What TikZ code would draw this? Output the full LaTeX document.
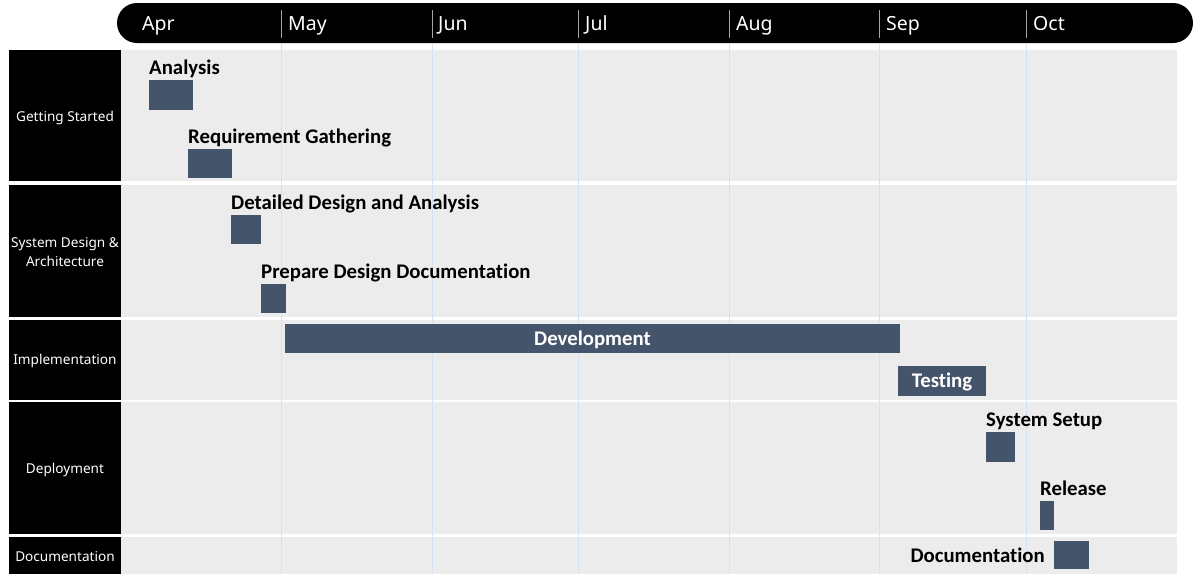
\documentclass[tikz,border=0pt]{standalone}
\usepackage{fontspec}
\setmainfont{Carlito}[Ligatures={NoCommon}]
\newfontfamily\uifont{Noto Sans}
\begin{document}
\begin{tikzpicture}[x=1pt,y=-1pt,
  lane/.style={fill=black, draw=none},
  lanetext/.style={text=white, font=\uifont\fontsize{13.6}{19}\selectfont, align=center, inner sep=0},
  band/.style={fill=bandgray, draw=none},
  grid/.style={draw=gridblue, line width=0.8pt},
  sep/.style={draw=gray!70, line width=0.8pt},
  month/.style={text=white, font=\uifont\fontsize{19.5}{22}\selectfont, anchor=base west, inner sep=0},
  bar/.style={fill=barblue, draw=none, anchor=north west, inner sep=0, outer sep=0},
  tasklabel/.style={font=\bfseries\fontsize{20.8}{24}\selectfont, anchor=base west, inner sep=0},
  inlabel/.style={font=\bfseries\fontsize{20.8}{24}\selectfont, text=white, inner sep=0}]
\definecolor{bandgray}{HTML}{ECECEC}
\definecolor{gridblue}{HTML}{D5E2F0}
\definecolor{barblue}{HTML}{44546A}
\useasboundingbox (0,0) rectangle (1195,582);

% month header
\fill[black, rounded corners=20pt] (117,3) rectangle (1193,43);
\foreach \x in {281,432,578,729,879,1026} \draw[sep] (\x,10) -- (\x,38);
\node[month] (apr) at (142,30) {Apr};
\node[month] (may) at (288,30) {May};
\node[month] (jun) at (438,30) {Jun};
\node[month] (jul) at (585,30) {Jul};
\node[month] (aug) at (736,30) {Aug};
\node[month] (sep) at (886,30) {Sep};
\node[month] (oct) at (1033,30) {Oct};

% swimlanes
\foreach \ya/\yb in {50/181, 185/317, 320/400, 402/534, 537/574} {
  \fill[lane] (9,\ya) rectangle (121,\yb);
  \fill[band] (121,\ya) rectangle (1177,\yb);
}
\node[lanetext] (l1) at (65,117.5) {Getting Started};
\node[lanetext] (l2) at (65,252) {System Design \&\\Architecture};
\node[lanetext] (l3) at (65,361) {Implementation};
\node[lanetext] (l4) at (65,469.5) {Deployment};
\node[lanetext] (l5) at (65,556.5) {Documentation};

% month grid lines
\foreach \x in {281,432,578,729,879,1026} \draw[grid] (\x,43) -- (\x,574);

% tasks
\node[bar, minimum width=44, minimum height=30] (analysis) at (149,80) {};
\node[tasklabel] (analysisL) at ([yshift=5.5pt]analysis.north west) {Analysis};

\node[bar, minimum width=44, minimum height=29] (req) at (188,149) {};
\node[tasklabel] (reqL) at ([yshift=5.5pt]req.north west) {Requirement Gathering};

\node[bar, minimum width=30, minimum height=29] (detail) at (231,215) {};
\node[tasklabel] (detailL) at ([yshift=5.5pt]detail.north west) {Detailed Design and Analysis};

\node[bar, minimum width=25, minimum height=29] (prep) at (261,284) {};
\node[tasklabel] (prepL) at ([yshift=5.5pt]prep.north west) {Prepare Design Documentation};

\node[bar, minimum width=615, minimum height=29] (dev) at (285,324) {};
\node[inlabel] (devL) at ([yshift=-1pt]dev.center) {Development};

\node[bar, minimum width=88, minimum height=30] (test) at (898,366) {};
\node[inlabel] (testL) at ([yshift=-1pt]test.center) {Testing};

\node[bar, minimum width=29, minimum height=30] (setup) at (986,432) {};
\node[tasklabel] (setupL) at ([yshift=5.5pt]setup.north west) {System Setup};

\node[bar, minimum width=14, minimum height=29] (rel) at (1040,501) {};
\node[tasklabel] (relL) at ([yshift=5.5pt]rel.north west) {Release};

\node[bar, minimum width=35, minimum height=28] (doc) at (1054,541) {};
\node[tasklabel, anchor=base east] (docL) at (1045,562) {Documentation};
\end{tikzpicture}
\end{document}
